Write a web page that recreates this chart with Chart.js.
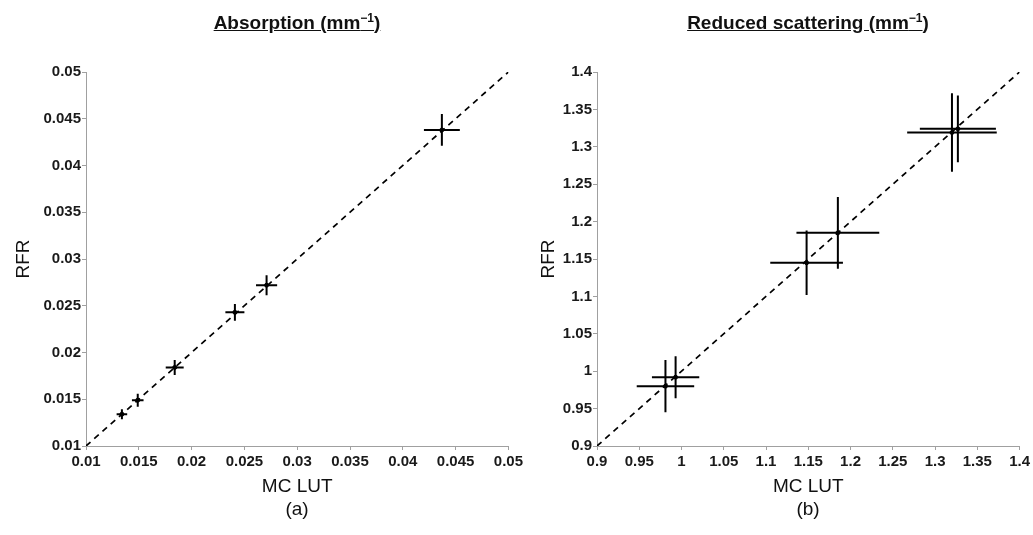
<!DOCTYPE html>
<html>
<head>
<meta charset="utf-8">
<script src="https://cdn.jsdelivr.net/npm/chart.js"></script>
<style>
  body { margin: 0; background: #fff; font-family: "Liberation Sans", Arial, sans-serif; }
  #wrap { position: relative; width: 1033px; height: 535px; overflow: hidden; }
  .panel { position: absolute; top: 0; height: 535px; }
  .title { position: absolute; top: 11px; font-weight: bold; font-size: 19px; text-decoration: underline; white-space: nowrap; transform: translateX(-50%); color: #111; }
  .title sup { font-size: 12px; }
  .tag { position: absolute; top: 498px; font-size: 19px; transform: translateX(-50%); color: #111; }
</style>
</head>
<body>
<div id="wrap">
  <div class="panel" style="left:0;width:526px"><canvas id="absChart"></canvas></div>
  <div class="panel" style="left:517px;width:516px"><canvas id="scatChart"></canvas></div>
  <div class="title" style="left:297px">Absorption (mm<sup>&minus;1</sup>)</div>
  <div class="title" style="left:808px">Reduced scattering (mm<sup>&minus;1</sup>)</div>
  <div class="tag" style="left:297px">(a)</div>
  <div class="tag" style="left:808px">(b)</div>
</div>
<script>
// Absorption: MC LUT vs RFR, with standard deviations
const absMC = [0.0134, 0.0149, 0.0184, 0.0241, 0.0271, 0.0437];
const absRFR = [0.0134, 0.0149, 0.0184, 0.0243, 0.0272, 0.0438];
const absMCErr = [0.0005, 0.00055, 0.00085, 0.0009, 0.001, 0.0017];
const absRFRErr = [0.00053, 0.0007, 0.0008, 0.0009, 0.00107, 0.0017];
const absRange = [0.01, 0.05];

// Reduced scattering
const scatMC = [0.981, 0.993, 1.148, 1.185, 1.320, 1.327];
const scatRFR = [0.980, 0.992, 1.145, 1.185, 1.319, 1.324];
const scatMCErr = [0.034, 0.028, 0.043, 0.049, 0.053, 0.045];
const scatRFRErr = [0.035, 0.028, 0.043, 0.048, 0.0525, 0.0445];
const scatRange = [0.9, 1.4];

const absTicks = [0.01, 0.015, 0.02, 0.025, 0.03, 0.035, 0.04, 0.045, 0.05];
const scatTicks = [0.9, 0.95, 1, 1.05, 1.1, 1.15, 1.2, 1.25, 1.3, 1.35, 1.4];

const FONT = "'Liberation Sans', Arial, sans-serif";

// crosshair error bars drawn through the chart scales
const errorBars = {
  id: 'errorBars',
  afterDatasetsDraw(chart) {
    const ctx = chart.ctx;
    const xs = chart.scales.x, ys = chart.scales.y;
    chart.data.datasets.forEach(ds => {
      if (!ds.xErr) return;
      ctx.save();
      ctx.strokeStyle = '#000';
      ctx.lineWidth = 2;
      ds.data.forEach((p, i) => {
        const px = xs.getPixelForValue(p.x), py = ys.getPixelForValue(p.y);
        ctx.beginPath();
        ctx.moveTo(xs.getPixelForValue(p.x - ds.xErr[i]), py);
        ctx.lineTo(xs.getPixelForValue(p.x + ds.xErr[i]), py);
        ctx.moveTo(px, ys.getPixelForValue(p.y - ds.yErr[i]));
        ctx.lineTo(px, ys.getPixelForValue(p.y + ds.yErr[i]));
        ctx.stroke();
      });
      ctx.restore();
    });
  }
};

function makeChart(id, mc, rfr, mcErr, rfrErr, range, ticks, padLeft, yWidth, padRight) {
  const axisCommon = {
    type: 'linear',
    min: range[0],
    max: range[1],
    border: { color: '#a0a0a0', width: 1 },
    grid: { display: true, drawOnChartArea: false, color: '#a0a0a0', tickLength: 4 },
    ticks: {
      color: '#1a1a1a',
      font: { family: FONT, size: 15, weight: 'bold' },
      autoSkip: false,
      maxRotation: 0,
      padding: 1,
      callback: v => String(Math.round(v * 1000) / 1000)
    },
    afterBuildTicks: scale => { scale.ticks = ticks.map(v => ({ value: v })); }
  };
  return new Chart(document.getElementById(id), {
    type: 'scatter',
    data: {
      datasets: [
        {
          type: 'line',
          data: range.map(v => ({ x: v, y: v })),
          borderColor: '#000',
          borderWidth: 1.7,
          borderDash: [6, 5],
          pointRadius: 0,
          fill: false
        },
        {
          data: mc.map((v, i) => ({ x: v, y: rfr[i] })),
          xErr: mcErr,
          yErr: rfrErr,
          pointRadius: 2,
          pointBackgroundColor: '#000',
          pointBorderColor: '#000'
        }
      ]
    },
    options: {
      responsive: true,
      maintainAspectRatio: false,
      animation: false,
      devicePixelRatio: 1,
      layout: { padding: { top: 72, right: padRight, bottom: 30, left: padLeft } },
      plugins: { legend: { display: false }, tooltip: { enabled: false } },
      scales: {
        x: Object.assign({}, axisCommon, {
          ticks: Object.assign({}, axisCommon.ticks, { padding: 3 }),
          title: { display: true, text: 'MC LUT', color: '#111', font: { family: FONT, size: 19 }, padding: { top: 4, bottom: 7 } },
          afterFit: s => { s.height = 59; }
        }),
        y: Object.assign({}, axisCommon, {
          title: { display: true, text: 'RFR', color: '#111', font: { family: FONT, size: 19 }, padding: { top: 0, bottom: 0 } },
          afterFit: s => { s.width = yWidth; }
        })
      }
    },
    plugins: [errorBars]
  });
}

makeChart('absChart', absMC, absRFR, absMCErr, absRFRErr, absRange, absTicks, 12, 74, 0);
makeChart('scatChart', scatMC, scatRFR, scatMCErr, scatRFRErr, scatRange, scatTicks, 20, 60, 13);
</script>
</body>
</html>
